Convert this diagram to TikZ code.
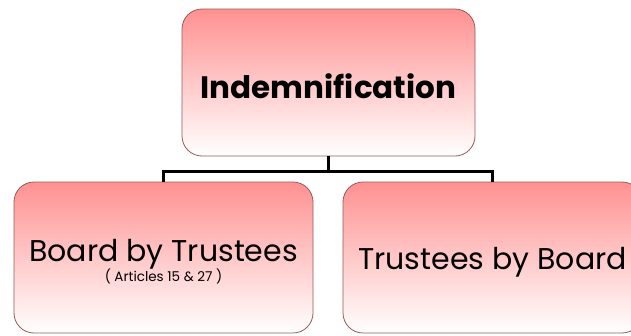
\documentclass[tikz,border=0pt]{standalone}
\usepackage{fontspec}
\setmainfont{Poppins}
\usepackage{tikz}
\usetikzlibrary{calc}

\definecolor{boxpink}{RGB}{255,145,145}
\definecolor{boxrim}{RGB}{150,90,90}
\newcommand{\lowerby}[2]{\raisebox{0pt}[\dimexpr\height+#1\relax]{#2}}

\begin{document}
\begin{tikzpicture}
          [
            x=1pt,y=-1pt,
            box/.style={draw=boxrim,line width=0.8pt,rounded corners=20pt,
              top color=boxpink,bottom color=white,
              minimum width=299pt,minimum height=151pt,inner sep=0pt},
            link/.style={line width=2.4pt,black}
          ]
          \useasboundingbox (0,0) rectangle (631,335);
          \clip (0,0) rectangle (631,335);
          % top
          \node[box,minimum width=293pt,minimum height=147pt,
            font=\fontsize{31}{34}\selectfont\bfseries] (indem) at (328.5,82.5)
            {\lowerby{8pt}{Indemnification}};
          % left
          \node[box] (board) at (163.5,257.5)
            {\lowerby{10pt}{\begin{tabular}{@{}c@{}}
             {\fontsize{30}{33}\selectfont Board by Trustees}\\[2pt]
             {\fontsize{13.5}{15}\selectfont ( Articles 15 \& 27 )}
             \end{tabular}}};
          % right
          \node[box,font=\fontsize{30}{33}\selectfont] (trust) at (492.5,257.5)
            {\lowerby{10pt}{Trustees by Board}};
          % edges
          \draw [link] (indem.south) -- ++(0,15) coordinate (fork);
          \draw [link] (fork) -| (board.north);
          \draw [link] (fork) -| (trust.north);
\end{tikzpicture}
\end{document}
